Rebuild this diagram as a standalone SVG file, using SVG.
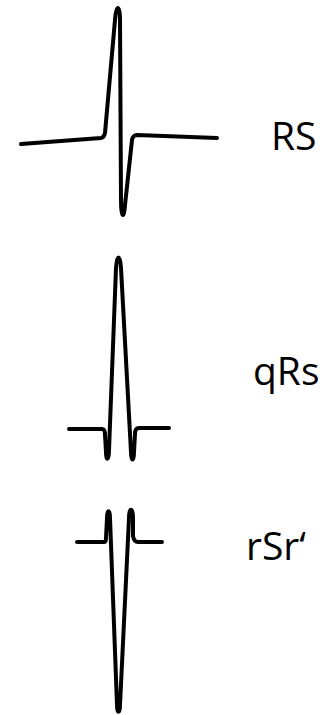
<svg xmlns="http://www.w3.org/2000/svg" width="336" height="715" viewBox="0 0 336 715">
<style>
.w{fill:none;stroke:#000;stroke-width:4;stroke-linecap:round;stroke-linejoin:round}
.t{font-family:"Open Sans","Noto Sans","Liberation Sans",sans-serif;font-size:39px;fill:#000}
</style>
<rect width="336" height="715" fill="#fff"/>
<g id="rs">
<path class="w" d="M21,144 L101,138 Q104,137.5 105,133 L115,20 C116,4 120,4 120,20 L121,200 C121,219 124,219 125,205 L132,140 Q133,135 137,135 L217,138"/>
<text class="t" x="271" y="150">RS</text>
</g>
<g id="qrs">
<path class="w" d="M69,429 L102,429 Q105,429 105,435 L106,452 C106,462 109,460 109,450 L116,268 C117,254 120,254 121,268 L131,452 C131,462 134,462 134,452 L135,434 Q135,428 139,428 L169,428"/>
<text class="t" x="253" y="385">qRs</text>
</g>
<g id="rsr">
<path class="w" d="M77,542 L104,542 Q106,542 106,538 L107,518 C107,509 110,509 110,518 L117,705 C117,714 120,714 120,705 L129,518 C129,507 133,507 133,518 L133,536 Q134,542 138,542 L162,542"/>
<text class="t" x="246" y="560">rSr‘</text>
</g>
</svg>
